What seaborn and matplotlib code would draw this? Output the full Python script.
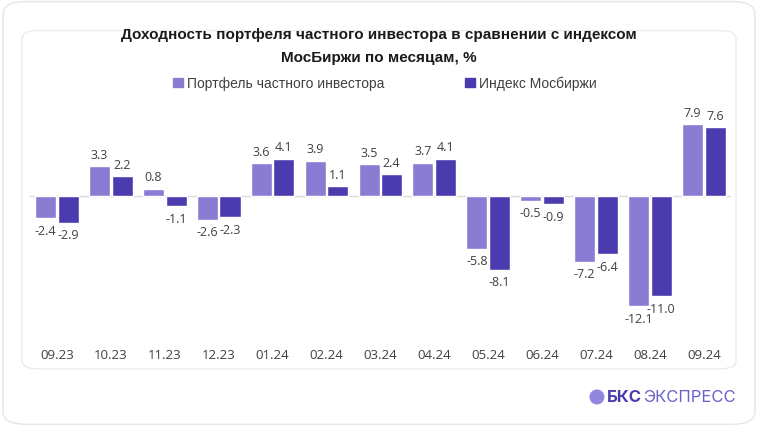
import pandas as pd
import seaborn as sns
import matplotlib.pyplot as plt
from matplotlib.patches import FancyBboxPatch, Patch, Ellipse

months = ["09.23", "10.23", "11.23", "12.23", "01.24", "02.24", "03.24",
          "04.24", "05.24", "06.24", "07.24", "08.24", "09.24"]
portfolio = [-2.4, 3.3, 0.8, -2.6, 3.6, 3.9, 3.5, 3.7, -5.8, -0.5, -7.2, -12.1, 7.9]
moex = [-2.9, 2.2, -1.1, -2.3, 4.1, 1.1, 2.4, 4.1, -8.1, -0.9, -6.4, -11.0, 7.6]
series_names = ["Портфель частного инвестора", "Индекс Мосбиржи"]
colors = ["#8a7bd3", "#4a3caf"]

df = pd.DataFrame({
    "Месяц": months * 2,
    "Доходность": portfolio + moex,
    "Серия": [series_names[0]] * len(months) + [series_names[1]] * len(months),
})

sns.set_theme(style="white")
plt.rcParams["font.family"] = ["Liberation Sans", "DejaVu Sans"]

fig = plt.figure(figsize=(7.58, 4.27), dpi=100)

# outer card and inner panel (behind the axes)
fig.patches.append(FancyBboxPatch((0.004, 0.004), 0.992, 0.99,
                                  boxstyle="round,pad=0,rounding_size=0.03",
                                  transform=fig.transFigure, fc="white",
                                  ec="#e6e6ea", lw=1.0, zorder=-3))
fig.patches.append(FancyBboxPatch((0.029, 0.134), 0.942, 0.792,
                                  boxstyle="round,pad=0,rounding_size=0.02",
                                  transform=fig.transFigure, fc="white",
                                  ec="#ececf0", lw=1.0, zorder=-2))

ax = fig.add_axes([0.0396, 0.2084, 0.9244, 0.5576])
ax.patch.set_alpha(0)
sns.barplot(data=df, x="Месяц", y="Доходность", hue="Серия",
            hue_order=series_names, palette=colors, width=0.84, gap=0.07,
            legend=False, ax=ax, saturation=1)

for cont in ax.containers:
    labels = [f"{v:.1f}" for v in cont.datavalues]
    ax.bar_label(cont, labels=labels, padding=4, fontsize=9,
                 color="#404040", family=["Open Sans", "DejaVu Sans"])

ax.axhline(0, color="#d9d9d9", lw=1, zorder=0)
ax.set_ylim(-15.5, 10.7)
ax.set_xlim(-0.5, len(months) - 0.5)
ax.set_yticks([])
ax.set_xlabel("")
ax.set_ylabel("")
for s in ax.spines.values():
    s.set_visible(False)
ax.tick_params(axis="x", length=0, pad=8, labelsize=9.5, labelcolor="#404040")
for t in ax.get_xticklabels():
    t.set_family(["Open Sans", "DejaVu Sans"])

fig.text(0.5, 0.918, "Доходность портфеля частного инвестора в сравнении с индексом",
         ha="center", va="center", fontsize=11, fontweight="bold", color="#1a1a1a")
fig.text(0.5, 0.863, "МосБиржи по месяцам, %",
         ha="center", va="center", fontsize=11, fontweight="bold", color="#1a1a1a")

handles = [Patch(color=c, label=n) for c, n in zip(colors, series_names)]
fig.legend(handles=handles, loc="center", bbox_to_anchor=(0.508, 0.803), ncol=2,
           frameon=False, fontsize=10, handlelength=0.7, handleheight=0.7,
           handletextpad=0.3, columnspacing=5.8, labelcolor="#404040")

# logo
fig.patches.append(Ellipse((0.7875, 0.068), 15 / 758, 15 / 427,
                           transform=fig.transFigure, fc="#8f86e0", ec="none"))
fig.text(0.800, 0.068, "БКС", ha="left", va="center", fontsize=12,
         fontweight="bold", color="#4a3caf", family=["Inter", "DejaVu Sans"])
fig.text(0.849, 0.068, "ЭКСПРЕСС", ha="left", va="center", fontsize=12,
         color="#6a60c8", family=["Inter", "DejaVu Sans"])

fig.savefig("out.png", dpi=100)
